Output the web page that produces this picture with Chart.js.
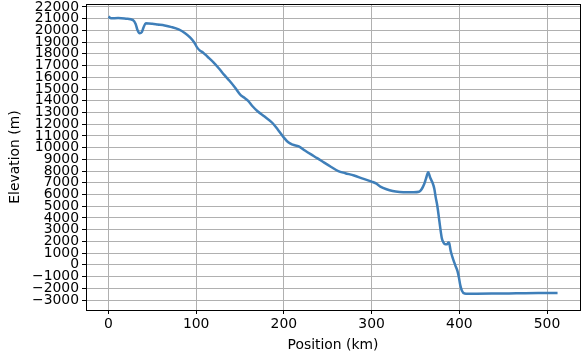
<!DOCTYPE html>
<html>
<head>
<meta charset="utf-8">
<script src="https://cdn.jsdelivr.net/npm/chart.js@4"></script>
<style>
  html, body { margin: 0; padding: 0; background: #fff; }
  #wrap { width: 583px; height: 357px; }
</style>
</head>
<body>
<div id="wrap"><canvas id="perfil"></canvas></div>
<script>
// distancia a lo largo del perfil (km)
const posiciones = [0, 3, 11, 20, 28, 31, 33, 35.5, 38, 40, 42.5, 50, 56, 64, 72, 80, 87, 93, 98, 101,
  104, 108, 113, 120, 126, 132, 138, 144, 151, 155, 159, 164, 170, 178, 187, 193, 200, 205, 210, 217,
  224, 231, 238, 246, 254, 262, 270, 280, 290, 300, 305, 310, 317, 324, 332, 340, 348, 354, 357, 360,
  362, 364.5, 367, 369.5, 371.5, 373, 375, 377.5, 380, 382, 384, 386, 387.5, 388.5, 390, 392, 394, 396,
  398, 399.5, 401, 403, 406, 410, 420, 440, 465, 490, 512];

// elevación (m)
const elevaciones = [21170, 21030, 21050, 21000, 20880, 20550, 20050, 19750, 19850, 20250, 20600, 20560,
  20500, 20420, 20280, 20080, 19780, 19400, 18950, 18550, 18300, 18100, 17750, 17250, 16750, 16200,
  15700, 15150, 14450, 14250, 14000, 13550, 13100, 12650, 12100, 11550, 10850, 10450, 10250, 10100,
  9750, 9420, 9100, 8720, 8350, 8000, 7820, 7620, 7350, 7100, 6950, 6680, 6450, 6300, 6220, 6190,
  6190, 6230, 6450, 6900, 7350, 7900, 7400, 7000, 6500, 5800, 5000, 3600, 2300, 1900, 1750, 1750,
  1900, 1850, 1250, 700, 250, -150, -550, -1050, -1700, -2200, -2440, -2460, -2460, -2450, -2430,
  -2410, -2390];

const ticksX = [0, 100, 200, 300, 400, 500];
const rangoY = [-3000, 22000];

const fuente = { family: "DejaVu Sans", size: 13.9 };

const puntos = posiciones.map((x, i) => ({ x, y: elevaciones[i] }));

const marco = {
  id: "marco",
  afterDraw(chart) {
    const { ctx, chartArea: a } = chart;
    ctx.save();
    ctx.strokeStyle = "#000";
    ctx.lineWidth = 1;
    ctx.strokeRect(Math.round(a.left) + 0.5, Math.round(a.top) + 0.5,
      Math.round(a.right - a.left), Math.round(a.bottom - a.top));
    ctx.restore();
  },
};

function formatearNumero(v) {
  return v < 0 ? "\u2212" + Math.abs(v) : String(v);
}

new Chart(document.getElementById("perfil"), {
  type: "scatter",
  data: {
    datasets: [
      {
        data: puntos,
        showLine: true,
        borderColor: "#3f7fb9",
        borderWidth: 2.5,
        pointRadius: 0,
        cubicInterpolationMode: "monotone",
      },
    ],
  },
  options: {
    responsive: true,
    maintainAspectRatio: false,
    animation: false,
    layout: { padding: { top: 4, right: 3, left: 0, bottom: 0 } },
    plugins: { legend: { display: false }, tooltip: { enabled: false } },
    scales: {
      x: {
        type: "linear",
        min: -25.6,
        max: 537.6,
        afterFit: (s) => { s.height = 47; s.paddingLeft = 0; s.paddingRight = 0; },
        afterBuildTicks: (s) => { s.ticks = ticksX.map((v) => ({ value: v })); },
        ticks: { font: fuente, color: "#000", padding: 2, maxRotation: 0, callback: (v) => formatearNumero(v) },
        grid: { color: "#b0b0b0", lineWidth: 1, tickColor: "#000", tickLength: 4 },
        border: { color: "#000" },
        title: { display: true, text: "Position (km)", font: fuente, color: "#000", padding: { top: 0, bottom: 3 } },
      },
      y: {
        min: -3850,
        max: 22250,
        afterFit: (s) => { s.width = 86; s.paddingTop = 0; s.paddingBottom = 0; },
        afterBuildTicks: (s) => {
          const t = [];
          for (let v = rangoY[0]; v <= rangoY[1]; v += 1000) t.push({ value: v });
          s.ticks = t;
        },
        ticks: { font: fuente, color: "#000", padding: 3, autoSkip: false, callback: (v) => formatearNumero(v) },
        grid: { color: "#b0b0b0", lineWidth: 1, tickColor: "#000", tickLength: 4 },
        border: { color: "#000" },
        title: { display: true, text: "Elevation (m)", font: fuente, color: "#000", padding: { top: 7, bottom: 0 } },
      },
    },
  },
  plugins: [marco],
});
</script>
</body>
</html>
